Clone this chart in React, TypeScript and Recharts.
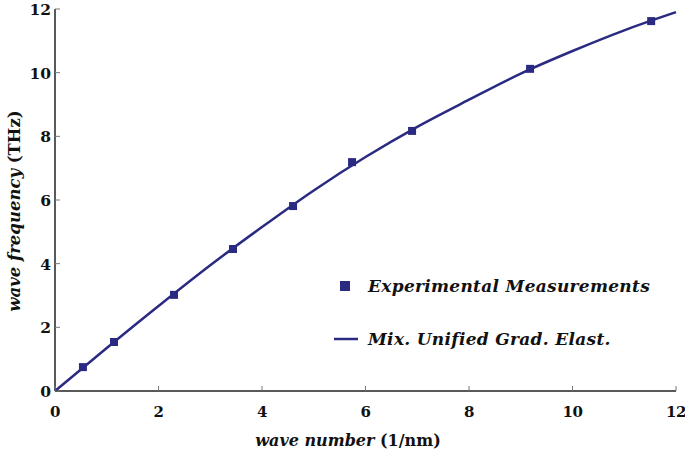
import {
  ComposedChart,
  Line,
  Scatter,
  XAxis,
  YAxis
} from 'recharts'

const measuredK = [0.54, 1.14, 2.3, 3.44, 4.6, 5.74, 6.9, 9.18, 11.52]
const measuredF = [0.75, 1.54, 3.02, 4.46, 5.81, 7.19, 8.17, 10.12, 11.62]

const modelK = [0, 1, 2, 3, 4, 5, 6, 7, 8, 9, 10, 11, 12]
const modelF = [0, 1.35, 2.67, 3.95, 5.15, 6.3, 7.35, 8.3, 9.15, 9.97, 10.68, 11.33, 11.9]

const ticks = [0, 2, 4, 6, 8, 10, 12]

const measured = measuredK.map((k, i) => ({ k, f: measuredF[i] }))
const model = modelK.map((k, i) => ({ k, f: modelF[i] }))

const navy = '#2b2a82'
const serif = '"DejaVu Serif", "Liberation Serif", serif'

const BottomTick = ({ x, y, payload }: any) => (
  <g>
    <line x1={x} x2={x} y1={y} y2={y - 5} stroke="#777" />
    <text
      x={x}
      y={y + 26}
      textAnchor="middle"
      fontFamily={serif}
      fontWeight="bold"
      fontSize={15}
      letterSpacing={-0.5}
      fill="#111"
    >
      {payload.value}
    </text>
  </g>
)

const LeftTick = ({ x, y, payload }: any) => (
  <g>
    <line x1={x} x2={x + 5} y1={y} y2={y} stroke="#777" />
    <text x={x - 4} y={y + 6} textAnchor="end" fontFamily={serif} fontWeight="bold" fontSize={15.5} fill="#111">
      {payload.value}
    </text>
  </g>
)

const TopTick = ({ x, y }: any) => <line x1={x} x2={x} y1={y} y2={y + 5} stroke="#777" />
const RightTick = ({ x, y }: any) => <line x1={x} x2={x - 5} y1={y} y2={y} stroke="#777" />

const XLabel = () => (
  <text x={348} y={446} textAnchor="middle" fontFamily={serif} fontSize={16} fill="#111">
    <tspan fontStyle="italic" fontWeight="bold">wave number</tspan>
    <tspan fontWeight="bold"> (1/nm)</tspan>
  </text>
)

const YLabel = () => (
  <text x={20} y={211} transform="rotate(-90 20 211)" textAnchor="middle" fontFamily={serif} fontSize={16.5} fill="#111">
    <tspan fontStyle="italic" fontWeight="bold">wave frequency</tspan>
    <tspan fontWeight="bold"> (THz)</tspan>
  </text>
)

const LegendBox = () => (
  <div
    style={{
      position: 'absolute',
      left: 330,
      top: 268,
      fontFamily: serif,
      fontStyle: 'italic',
      fontWeight: 'bold',
      fontSize: 17,
      letterSpacing: 0.3,
      color: '#111'
    }}
  >
    <div style={{ display: 'flex', alignItems: 'center', height: 36 }}>
      <svg width={38} height={14}>
        <rect x={10} y={2} width={10} height={10} fill={navy} />
      </svg>
      <span>Experimental Measurements</span>
    </div>
    <div style={{ display: 'flex', alignItems: 'center', height: 70 }}>
      <svg width={38} height={14}>
        <line x1={4} x2={28} y1={7} y2={7} stroke={navy} strokeWidth={2.5} />
      </svg>
      <span>Mix. Unified Grad. Elast.</span>
    </div>
  </div>
)

export default function App() {
  return (
    <div style={{ position: 'absolute', left: 0, top: 0, width: 685, height: 461, background: '#fff' }}>
      <ComposedChart width={685} height={461} margin={{ top: 9, right: 9, bottom: 0, left: 0 }}>
        <XAxis
          dataKey="k"
          type="number"
          domain={[0, 12]}
          ticks={ticks}
          height={70}
          tickSize={0}
          tickMargin={0}
          tickLine={false}
          tick={<BottomTick />}
          axisLine={{ stroke: '#222', strokeWidth: 1.5 }}
          label={{ content: () => <XLabel /> }}
        />
        <XAxis
          xAxisId="top"
          dataKey="k"
          orientation="top"
          type="number"
          domain={[0, 12]}
          ticks={ticks}
          height={0}
          tickSize={0}
          tickMargin={0}
          tickLine={false}
          tick={<TopTick />}
          axisLine={{ stroke: '#222', strokeWidth: 1.5 }}
        />
        <YAxis
          type="number"
          domain={[0, 12]}
          ticks={ticks}
          width={55}
          tickSize={0}
          tickMargin={0}
          tickLine={false}
          tick={<LeftTick />}
          axisLine={{ stroke: '#222', strokeWidth: 1.5 }}
          label={{ content: () => <YLabel /> }}
        />
        <YAxis
          yAxisId="right"
          orientation="right"
          type="number"
          domain={[0, 12]}
          ticks={ticks}
          width={0}
          tickSize={0}
          tickMargin={0}
          tickLine={false}
          tick={<RightTick />}
          axisLine={{ stroke: '#222', strokeWidth: 1.5 }}
        />
        <Line
          xAxisId="top"
          yAxisId="right"
          data={model}
          dataKey="f"
          stroke="none"
          dot={false}
          isAnimationActive={false}
          legendType="none"
        />
        <Line
          data={model}
          dataKey="f"
          type="monotone"
          stroke={navy}
          strokeWidth={2.5}
          dot={false}
          isAnimationActive={false}
          name="Mix. Unified Grad. Elast."
        />
        <Scatter
          data={measured}
          dataKey="f"
          fill={navy}
          shape="square"
          size={100}
          isAnimationActive={false}
          name="Experimental Measurements"
        />
      </ComposedChart>
      <LegendBox />
    </div>
  )
}
